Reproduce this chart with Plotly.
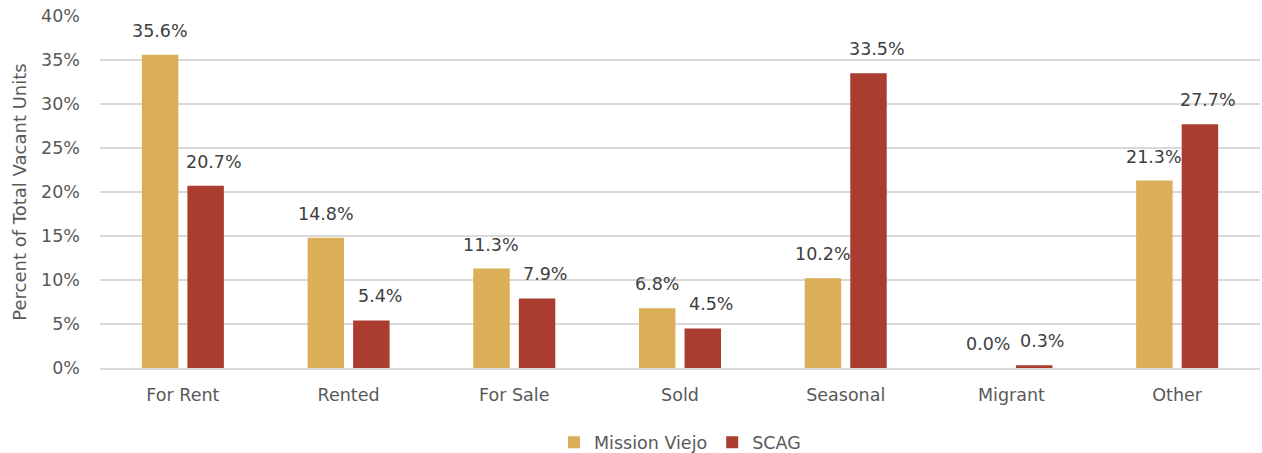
import plotly.graph_objects as go

categories = ["For Rent", "Rented", "For Sale", "Sold", "Seasonal", "Migrant", "Other"]
mission_viejo = [35.6, 14.8, 11.3, 6.8, 10.2, 0.0, 21.3]
scag = [20.7, 5.4, 7.9, 4.5, 33.5, 0.3, 27.7]
y_ticks = [0, 5, 10, 15, 20, 25, 30, 35, 40]
y_tick_labels = [f"{v}%" for v in y_ticks]

FONT = "DejaVu Sans, Liberation Sans, sans-serif"
GOLD = "#DBAE58"
RED = "#AA3C30"
FS = 17.5

fig = go.Figure()
fig.add_trace(go.Bar(name="Mission Viejo", x=categories, y=mission_viejo,
                     marker=dict(color=GOLD, line=dict(width=0))))
fig.add_trace(go.Bar(name="SCAG", x=categories, y=scag,
                     marker=dict(color=RED, line=dict(width=0))))

for series, shift in ((mission_viejo, -23), (scag, 31)):
    for c, v in zip(categories, series):
        fig.add_annotation(x=c, y=v, text=f"{v:.1f}%", showarrow=False,
                           xanchor="center", yanchor="bottom", xshift=shift, yshift=12,
                           font=dict(family=FONT, size=FS, color="#404040"))

fig.update_layout(
    width=1262, height=453,
    margin=dict(l=100, r=2, t=16, b=85, autoexpand=False),
    paper_bgcolor="white", plot_bgcolor="white",
    barmode="group", bargap=0.45, bargroupgap=0.2,
    font=dict(family=FONT, size=FS, color="#595959"),
    legend=dict(orientation="h", x=0.5, xanchor="center", y=-0.16, yanchor="top",
                font=dict(family=FONT, size=FS, color="#595959"),
                itemwidth=30, traceorder="normal"),
    showlegend=True,
)
fig.update_yaxes(range=[0, 40], tickvals=y_ticks, ticktext=y_tick_labels,
                 showgrid=True, gridcolor="#D9D9D9", gridwidth=1.5, zeroline=False,
                 showline=False, ticks="", ticklabelstandoff=19, automargin=True,
                 title=dict(text="Percent of Total Vacant Units", standoff=9,
                            font=dict(family=FONT, size=18, color="#595959")),
                 tickfont=dict(family=FONT, size=FS, color="#595959"))
fig.update_xaxes(showline=True, linecolor="#D9D9D9", linewidth=1.5, ticks="",
                 ticklabelstandoff=10, automargin=False,
                 tickfont=dict(family=FONT, size=FS, color="#595959"))

fig.write_html("out.html", config={"displayModeBar": False},
               post_script="document.body.style.margin='0';document.body.style.overflow='hidden';")
